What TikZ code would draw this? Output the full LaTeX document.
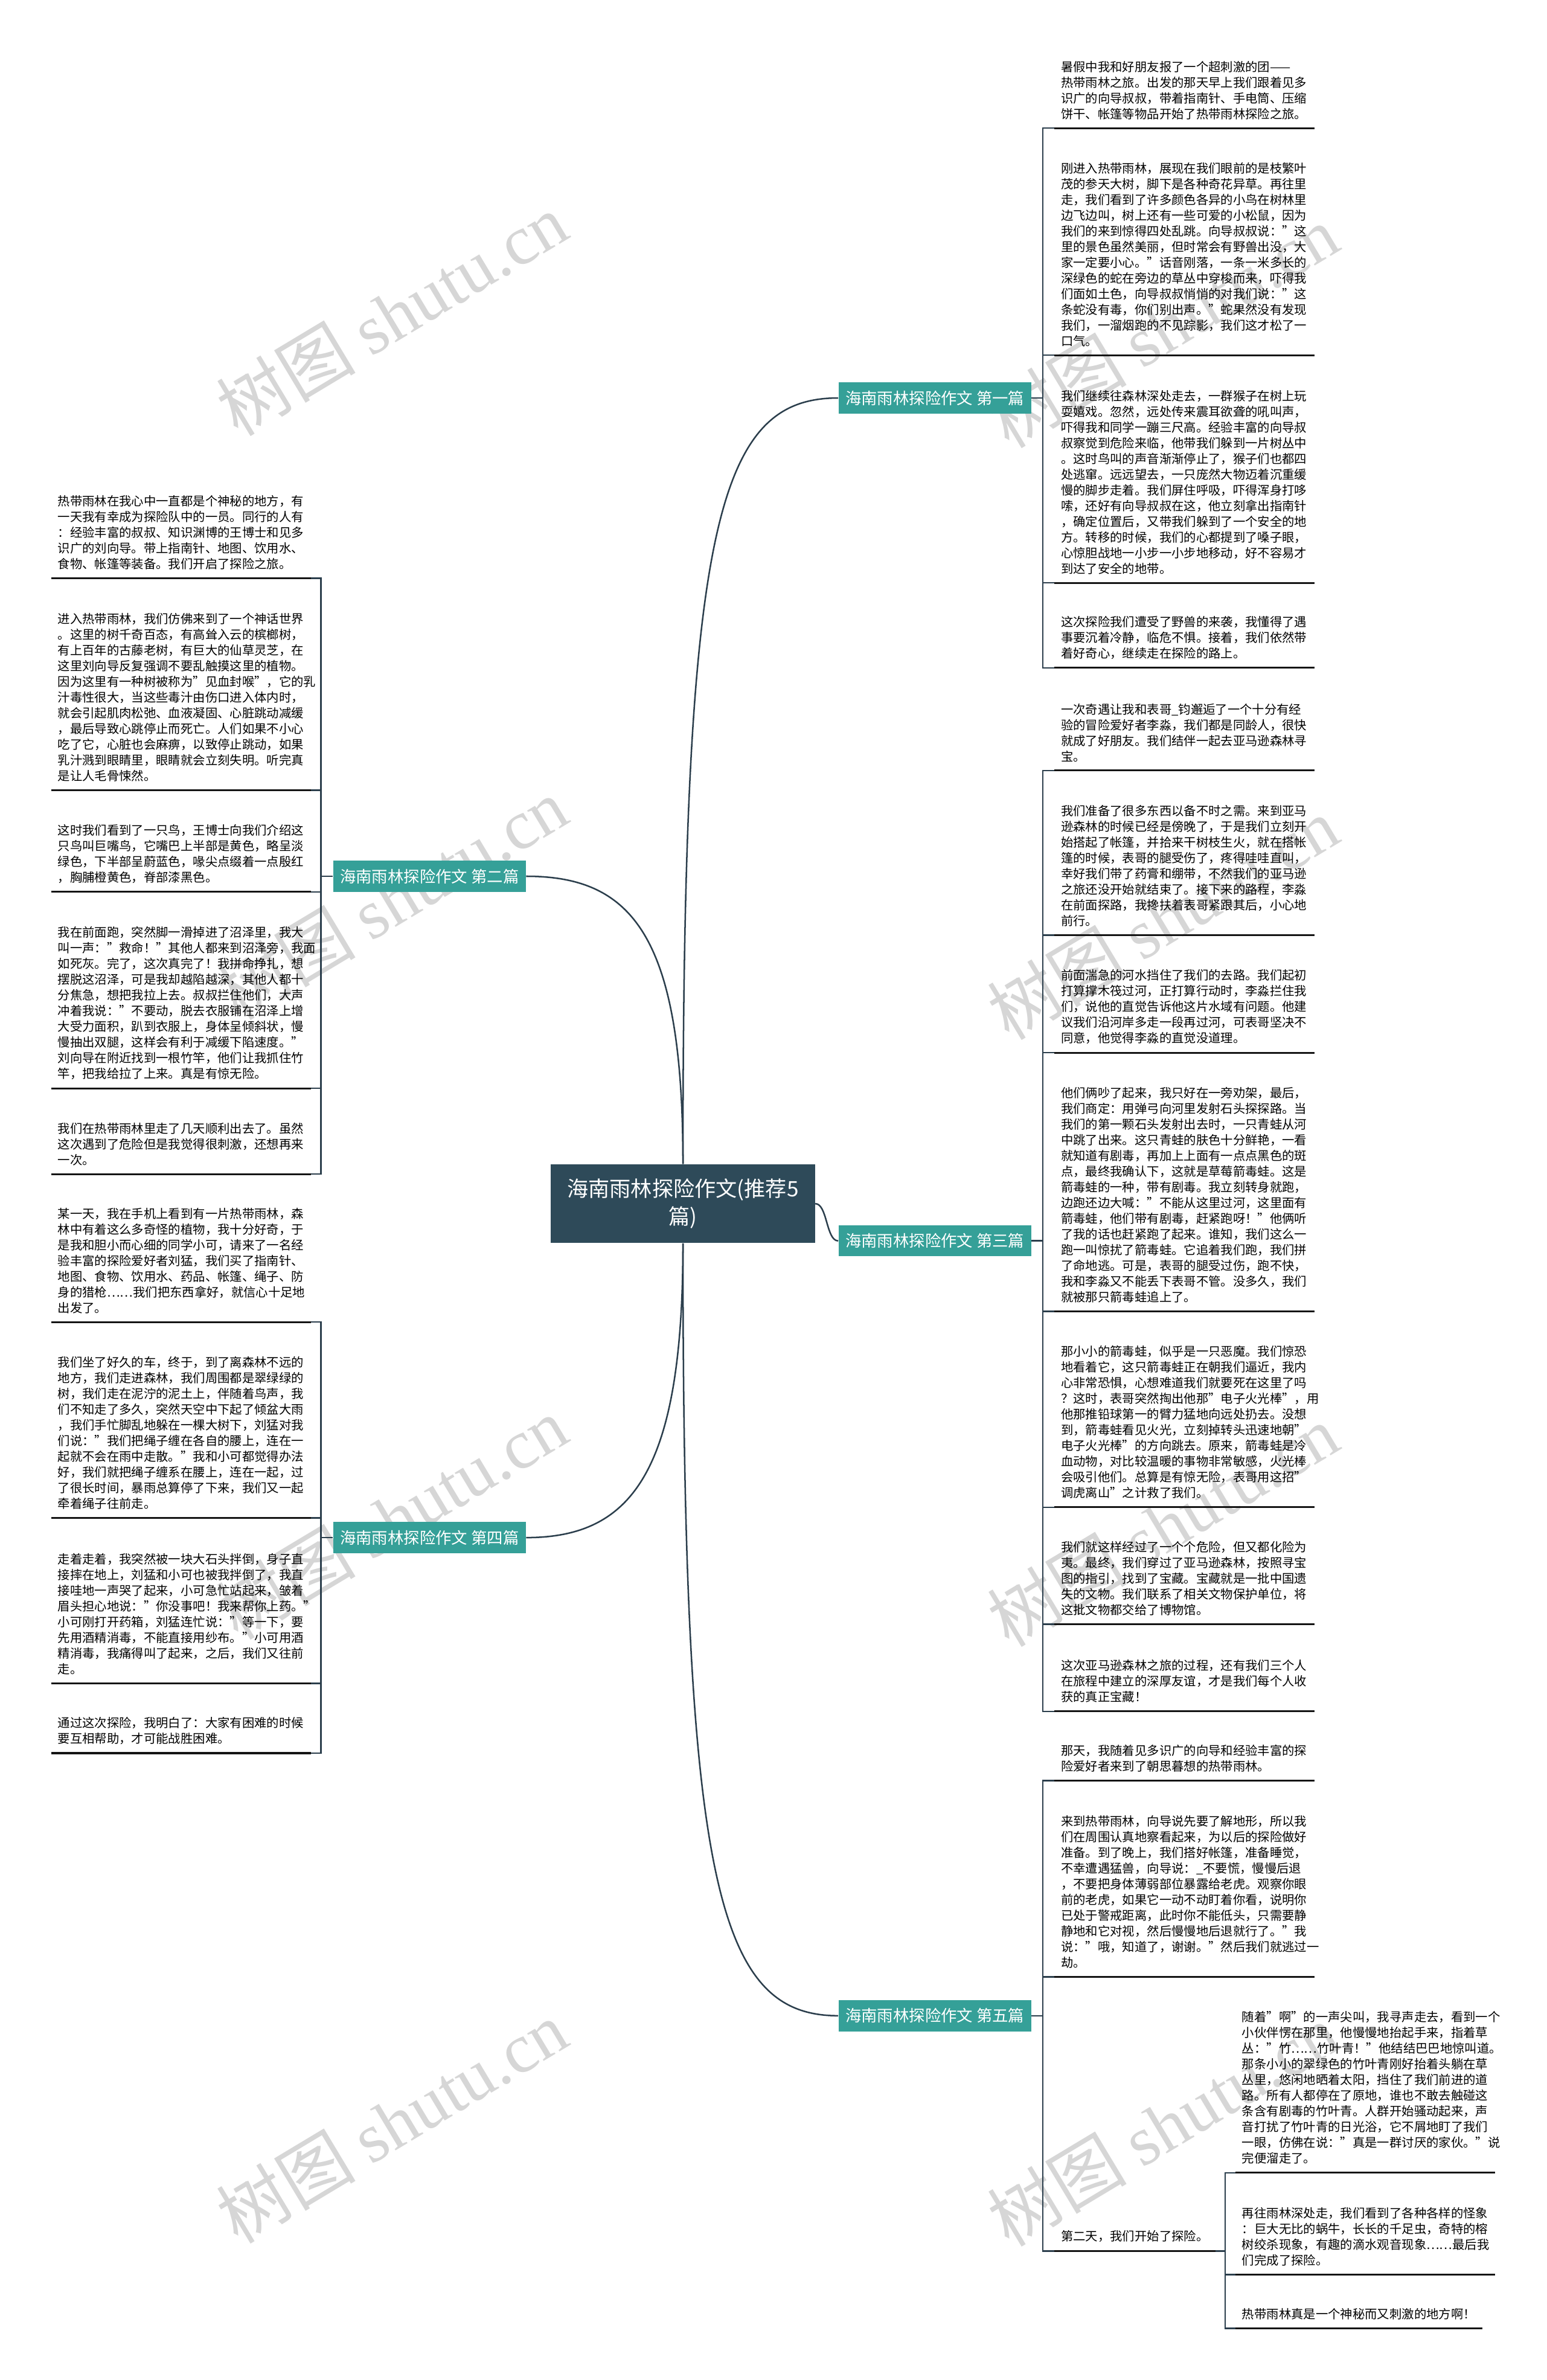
\documentclass[tikz,border=0pt]{standalone}
\usepackage{fontspec}
\setmainfont{Noto Sans CJK SC}
\newfontfamily\latinserif{Liberation Serif}
\usepackage{xcolor}
\usepackage{tikz}
\usetikzlibrary{positioning}

\definecolor{rootfill}{HTML}{2E4A59}
\definecolor{branchfill}{HTML}{35A098}
\definecolor{linkcol}{HTML}{2B3E4C}

\begin{document}
\begin{tikzpicture}[
  x=1pt, y=-1pt,
  font=\fontsize{8.1}{10.35}\selectfont,
  root/.style={
    fill=rootfill,
    text=white,
    align=center,
    minimum width=174pt,
    minimum height=52pt,
    inner sep=2pt,
    font=\fontsize{14}{18}\selectfont
  },
  branch/.style={
    fill=branchfill,
    text=white,
    minimum width=127pt,
    minimum height=20.5pt,
    inner sep=0pt,
    font=\fontsize{10.5}{12}\selectfont
  },
  leaf/.style={align=left, text width=162.5pt, inner xsep=4.2pt, inner ysep=5.5pt},
  lleaf/.style={leaf, anchor=south east},
  rleaf/.style={leaf, anchor=south west},
  note/.style={inner xsep=4.2pt, inner ysep=5.5pt, anchor=south west},
  uline/.style={draw=black!92, line width=1.2pt},
  link/.style={draw=linkcol, line width=1pt},
  wmark/.style={text=black!16, rotate=31, font=\fontsize{46}{46}\selectfont}
]
  \path[use as bounding box, fill=white] (0,0) rectangle (1019,1568);

  \node[wmark] (wm1) at (258,207) {树图 {\latinserif shutu.cn}};
  \node[wmark] (wm2) at (766,215) {树图 {\latinserif shutu.cn}};
  \node[wmark] (wm3) at (258,592) {树图 {\latinserif shutu.cn}};
  \node[wmark] (wm4) at (766,605) {树图 {\latinserif shutu.cn}};
  \node[wmark] (wm5) at (258,1000) {树图 {\latinserif shutu.cn}};
  \node[wmark] (wm6) at (766,1005) {树图 {\latinserif shutu.cn}};
  \node[wmark] (wm7) at (258,1398) {树图 {\latinserif shutu.cn}};
  \node[wmark] (wm8) at (766,1400) {树图 {\latinserif shutu.cn}};

  \node[root] (root) at (450,793) {海南雨林探险作文(推荐5\\篇)};

  \node[branch] (b1) at (616,262.2) {海南雨林探险作文 第一篇};
  \node[branch] (b2) at (283,577.3) {海南雨林探险作文 第二篇};
  \node[branch] (b3) at (616,817.5) {海南雨林探险作文 第三篇};
  \node[branch] (b4) at (283,1013) {海南雨林探险作文 第四篇};
  \node[branch] (b5) at (616,1328) {海南雨林探险作文 第五篇};

  \node[rleaf] (r1a) at (694.7,84.4) {暑假中我和好朋友报了一个超刺激的团——\\
    热带雨林之旅。出发的那天早上我们跟着见多\\
    识广的向导叔叔，带着指南针、手电筒、压缩\\
    饼干、帐篷等物品开始了热带雨林探险之旅。};
  \node[rleaf] (r1b) at (694.7,234) {刚进入热带雨林，展现在我们眼前的是枝繁叶\\
    茂的参天大树，脚下是各种奇花异草。再往里\\
    走，我们看到了许多颜色各异的小鸟在树林里\\
    边飞边叫，树上还有一些可爱的小松鼠，因为\\
    我们的来到惊得四处乱跳。向导叔叔说："这\\
    里的景色虽然美丽，但时常会有野兽出没，大\\
    家一定要小心。"话音刚落，一条一米多长的\\
    深绿色的蛇在旁边的草丛中穿梭而来，吓得我\\
    们面如土色，向导叔叔悄悄的对我们说："这\\
    条蛇没有毒，你们别出声。"蛇果然没有发现\\
    我们，一溜烟跑的不见踪影，我们这才松了一\\
    口气。};
  \node[rleaf] (r1c) at (694.7,384) {我们继续往森林深处走去，一群猴子在树上玩\\
    耍嬉戏。忽然，远处传来震耳欲聋的吼叫声，\\
    吓得我和同学一蹦三尺高。经验丰富的向导叔\\
    叔察觉到危险来临，他带我们躲到一片树丛中\\
    。这时鸟叫的声音渐渐停止了，猴子们也都四\\
    处逃窜。远远望去，一只庞然大物迈着沉重缓\\
    慢的脚步走着。我们屏住呼吸，吓得浑身打哆\\
    嗦，还好有向导叔叔在这，他立刻拿出指南针\\
    ，确定位置后，又带我们躲到了一个安全的地\\
    方。转移的时候，我们的心都提到了嗓子眼，\\
    心惊胆战地一小步一小步地移动，好不容易才\\
    到达了安全的地带。};
  \node[rleaf] (r1d) at (694.7,440) {这次探险我们遭受了野兽的来袭，我懂得了遇\\
    事要沉着冷静，临危不惧。接着，我们依然带\\
    着好奇心，继续走在探险的路上。};

  \node[lleaf] (l2a) at (205,381) {热带雨林在我心中一直都是个神秘的地方，有\\
    一天我有幸成为探险队中的一员。同行的人有\\
    ：经验丰富的叔叔、知识渊博的王博士和见多\\
    识广的刘向导。带上指南针、地图、饮用水、\\
    食物、帐篷等装备。我们开启了探险之旅。};
  \node[lleaf] (l2b) at (205,520.7) {进入热带雨林，我们仿佛来到了一个神话世界\\
    。这里的树千奇百态，有高耸入云的槟榔树，\\
    有上百年的古藤老树，有巨大的仙草灵芝，在\\
    这里刘向导反复强调不要乱触摸这里的植物。\\
    因为这里有一种树被称为"见血封喉"，它的乳\\
    汁毒性很大，当这些毒汁由伤口进入体内时，\\
    就会引起肌肉松弛、血液凝固、心脏跳动减缓\\
    ，最后导致心跳停止而死亡。人们如果不小心\\
    吃了它，心脏也会麻痹，以致停止跳动，如果\\
    乳汁溅到眼睛里，眼睛就会立刻失明。听完真\\
    是让人毛骨悚然。};
  \node[lleaf] (l2c) at (205,587.6) {这时我们看到了一只鸟，王博士向我们介绍这\\
    只鸟叫巨嘴鸟，它嘴巴上半部是黄色，略呈淡\\
    绿色，下半部呈蔚蓝色，喙尖点缀着一点殷红\\
    ，胸脯橙黄色，脊部漆黑色。};
  \node[lleaf] (l2d) at (205,717) {我在前面跑，突然脚一滑掉进了沼泽里，我大\\
    叫一声："救命！"其他人都来到沼泽旁，我面\\
    如死灰。完了，这次真完了！我拼命挣扎，想\\
    摆脱这沼泽，可是我却越陷越深，其他人都十\\
    分焦急，想把我拉上去。叔叔拦住他们，大声\\
    冲着我说："不要动，脱去衣服铺在沼泽上增\\
    大受力面积，趴到衣服上，身体呈倾斜状，慢\\
    慢抽出双腿，这样会有利于减缓下陷速度。"\\
    刘向导在附近找到一根竹竿，他们让我抓住竹\\
    竿，把我给拉了上来。真是有惊无险。};
  \node[lleaf] (l2e) at (205,773.5) {我们在热带雨林里走了几天顺利出去了。虽然\\
    这次遇到了危险但是我觉得很刺激，还想再来\\
    一次。};

  \node[rleaf] (r3a) at (694.7,507.6) {一次奇遇让我和表哥\_钧邂逅了一个十分有经\\
    验的冒险爱好者李淼，我们都是同龄人，很快\\
    就成了好朋友。我们结伴一起去亚马逊森林寻\\
    宝。};
  \node[rleaf] (r3b) at (694.7,616) {我们准备了很多东西以备不时之需。来到亚马\\
    逊森林的时候已经是傍晚了，于是我们立刻开\\
    始搭起了帐篷，并拾来干树枝生火，就在搭帐\\
    篷的时候，表哥的腿受伤了，疼得哇哇直叫，\\
    幸好我们带了药膏和绷带，不然我们的亚马逊\\
    之旅还没开始就结束了。接下来的路程，李淼\\
    在前面探路，我搀扶着表哥紧跟其后，小心地\\
    前行。};
  \node[rleaf] (r3c) at (694.7,693.5) {前面湍急的河水挡住了我们的去路。我们起初\\
    打算撑木筏过河，正打算行动时，李淼拦住我\\
    们，说他的直觉告诉他这片水域有问题。他建\\
    议我们沿河岸多走一段再过河，可表哥坚决不\\
    同意，他觉得李淼的直觉没道理。};
  \node[rleaf] (r3d) at (694.7,864) {他们俩吵了起来，我只好在一旁劝架，最后，\\
    我们商定：用弹弓向河里发射石头探探路。当\\
    我们的第一颗石头发射出去时，一只青蛙从河\\
    中跳了出来。这只青蛙的肤色十分鲜艳，一看\\
    就知道有剧毒，再加上上面有一点点黑色的斑\\
    点，最终我确认下，这就是草莓箭毒蛙。这是\\
    箭毒蛙的一种，带有剧毒。我立刻转身就跑，\\
    边跑还边大喊："不能从这里过河，这里面有\\
    箭毒蛙，他们带有剧毒，赶紧跑呀！"他俩听\\
    了我的话也赶紧跑了起来。谁知，我们这么一\\
    跑一叫惊扰了箭毒蛙。它追着我们跑，我们拼\\
    了命地逃。可是，表哥的腿受过伤，跑不快，\\
    我和李淼又不能丢下表哥不管。没多久，我们\\
    就被那只箭毒蛙追上了。};
  \node[rleaf] (r3e) at (694.7,993) {那小小的箭毒蛙，似乎是一只恶魔。我们惊恐\\
    地看着它，这只箭毒蛙正在朝我们逼近，我内\\
    心非常恐惧，心想难道我们就要死在这里了吗\\
    ？这时，表哥突然掏出他那"电子火光棒"，用\\
    他那推铅球第一的臂力猛地向远处扔去。没想\\
    到，箭毒蛙看见火光，立刻掉转头迅速地朝"\\
    电子火光棒"的方向跳去。原来，箭毒蛙是冷\\
    血动物，对比较温暖的事物非常敏感，火光棒\\
    会吸引他们。总算是有惊无险，表哥用这招"\\
    调虎离山"之计救了我们。};
  \node[rleaf] (r3f) at (694.7,1070) {我们就这样经过了一个个危险，但又都化险为\\
    夷。最终，我们穿过了亚马逊森林，按照寻宝\\
    图的指引，找到了宝藏。宝藏就是一批中国遗\\
    失的文物。我们联系了相关文物保护单位，将\\
    这批文物都交给了博物馆。};
  \node[rleaf] (r3g) at (694.7,1127.5) {这次亚马逊森林之旅的过程，还有我们三个人\\
    在旅程中建立的深厚友谊，才是我们每个人收\\
    获的真正宝藏！};

  \node[lleaf] (l4a) at (205,871) {某一天，我在手机上看到有一片热带雨林，森\\
    林中有着这么多奇怪的植物，我十分好奇，于\\
    是我和胆小而心细的同学小可，请来了一名经\\
    验丰富的探险爱好者刘猛，我们买了指南针、\\
    地图、食物、饮用水、药品、帐篷、绳子、防\\
    身的猎枪……我们把东西拿好，就信心十足地\\
    出发了。};
  \node[lleaf] (l4b) at (205,1000) {我们坐了好久的车，终于，到了离森林不远的\\
    地方，我们走进森林，我们周围都是翠绿绿的\\
    树，我们走在泥泞的泥土上，伴随着鸟声，我\\
    们不知走了多久，突然天空中下起了倾盆大雨\\
    ，我们手忙脚乱地躲在一棵大树下，刘猛对我\\
    们说："我们把绳子缠在各自的腰上，连在一\\
    起就不会在雨中走散。"我和小可都觉得办法\\
    好，我们就把绳子缠系在腰上，连在一起，过\\
    了很长时间，暴雨总算停了下来，我们又一起\\
    牵着绳子往前走。};
  \node[lleaf] (l4c) at (205,1109) {走着走着，我突然被一块大石头拌倒，身子直\\
    接摔在地上，刘猛和小可也被我拌倒了，我直\\
    接哇地一声哭了起来，小可急忙站起来，皱着\\
    眉头担心地说："你没事吧！我来帮你上药。"\\
    小可刚打开药箱，刘猛连忙说："等一下，要\\
    先用酒精消毒，不能直接用纱布。"小可用酒\\
    精消毒，我痛得叫了起来，之后，我们又往前\\
    走。};
  \node[lleaf] (l4d) at (205,1155) {通过这次探险，我明白了：大家有困难的时候\\
    要互相帮助，才可能战胜困难。};

  \node[rleaf] (r5a) at (694.7,1173) {那天，我随着见多识广的向导和经验丰富的探\\
    险爱好者来到了朝思暮想的热带雨林。};
  \node[rleaf] (r5b) at (694.7,1302.5) {来到热带雨林，向导说先要了解地形，所以我\\
    们在周围认真地察看起来，为以后的探险做好\\
    准备。到了晚上，我们搭好帐篷，准备睡觉，\\
    不幸遭遇猛兽，向导说：\_不要慌，慢慢后退\\
    ，不要把身体薄弱部位暴露给老虎。观察你眼\\
    前的老虎，如果它一动不动盯着你看，说明你\\
    已处于警戒距离，此时你不能低头，只需要静\\
    静地和它对视，然后慢慢地后退就行了。"我\\
    说："哦，知道了，谢谢。"然后我们就逃过一\\
    劫。};
  \node[note] (r5c) at (694.7,1483) {第二天，我们开始了探险。};

  \node[rleaf] (c1) at (814,1431.5) {随着"啊"的一声尖叫，我寻声走去，看到一个\\
    小伙伴愣在那里，他慢慢地抬起手来，指着草\\
    丛："竹……竹叶青！"他结结巴巴地惊叫道。\\
    那条小小的翠绿色的竹叶青刚好抬着头躺在草\\
    丛里，悠闲地晒着太阳，挡住了我们前进的道\\
    路。所有人都停在了原地，谁也不敢去触碰这\\
    条含有剧毒的竹叶青。人群开始骚动起来，声\\
    音打扰了竹叶青的日光浴，它不屑地盯了我们\\
    一眼，仿佛在说："真是一群讨厌的家伙。"说\\
    完便溜走了。};
  \node[rleaf] (c2) at (814,1498.5) {再往雨林深处走，我们看到了各种各样的怪象\\
    ：巨大无比的蜗牛，长长的千足虫，奇特的榕\\
    树绞杀现象，有趣的滴水观音现象……最后我\\
    们完成了探险。};
  \node[note] (c3) at (814,1534) {热带雨林真是一个神秘而又刺激的地方啊！};

  \draw[link] (root.north) .. controls +(0,-420) and +(-80,0) .. (b1.west);
  \draw[link] (root.north) .. controls +(0,-150) and +(70,0) .. (b2.east);
  \draw[link] (root.east) .. controls +(8,0) and +(-8,0) .. (b3.west);
  \draw[link] (root.south) .. controls +(0,150) and +(70,0) .. (b4.east);
  \draw[link] (root.south) .. controls +(0,420) and +(-80,0) .. (b5.west);

  \draw[uline] (r1a.south west) -- (r1a.south east) (r1b.south west) -- (r1b.south east)
    (r1c.south west) -- (r1c.south east) (r1d.south west) -- (r1d.south east);
  \draw[uline] (l2a.south west) -- (l2a.south east) (l2b.south west) -- (l2b.south east)
    (l2c.south west) -- (l2c.south east) (l2d.south west) -- (l2d.south east)
    (l2e.south west) -- (l2e.south east);
  \draw[uline] (r3a.south west) -- (r3a.south east) (r3b.south west) -- (r3b.south east)
    (r3c.south west) -- (r3c.south east) (r3d.south west) -- (r3d.south east)
    (r3e.south west) -- (r3e.south east) (r3f.south west) -- (r3f.south east)
    (r3g.south west) -- (r3g.south east);
  \draw[uline] (l4a.south west) -- (l4a.south east) (l4b.south west) -- (l4b.south east)
    (l4c.south west) -- (l4c.south east) (l4d.south west) -- (l4d.south east);
  \draw[uline] (r5a.south west) -- (r5a.south east) (r5b.south west) -- (r5b.south east)
    (r5c.south west) -- (r5c.south east);
  \draw[uline] (c1.south west) -- (c1.south east) (c2.south west) -- (c2.south east)
    (c3.south west) -- (c3.south east);

  \draw[link] (b1.east) -- ++(7.5,0) |- (r1a.south west)
    (b1.east) -- ++(7.5,0) |- (r1b.south west)
    (b1.east) -- ++(7.5,0) |- (r1c.south west)
    (b1.east) -- ++(7.5,0) |- (r1d.south west);
  \draw[link] (b2.west) -- ++(-7.9,0) |- (l2a.south east)
    (b2.west) -- ++(-7.9,0) |- (l2b.south east)
    (b2.west) -- ++(-7.9,0) |- (l2c.south east)
    (b2.west) -- ++(-7.9,0) |- (l2d.south east)
    (b2.west) -- ++(-7.9,0) |- (l2e.south east);
  \draw[link] (b3.east) -- ++(7.5,0) |- (r3a.south west)
    (b3.east) -- ++(7.5,0) |- (r3b.south west)
    (b3.east) -- ++(7.5,0) |- (r3c.south west)
    (b3.east) -- ++(7.5,0) |- (r3d.south west)
    (b3.east) -- ++(7.5,0) |- (r3e.south west)
    (b3.east) -- ++(7.5,0) |- (r3f.south west)
    (b3.east) -- ++(7.5,0) |- (r3g.south west);
  \draw[link] (b4.west) -- ++(-7.9,0) |- (l4a.south east)
    (b4.west) -- ++(-7.9,0) |- (l4b.south east)
    (b4.west) -- ++(-7.9,0) |- (l4c.south east)
    (b4.west) -- ++(-7.9,0) |- (l4d.south east);
  \draw[link] (b5.east) -- ++(7.5,0) |- (r5a.south west)
    (b5.east) -- ++(7.5,0) |- (r5b.south west)
    (b5.east) -- ++(7.5,0) |- (r5c.south west);
  \draw[link] (r5c.south east) -- ++(6.5,0) |- (c1.south west)
    (r5c.south east) -- ++(6.5,0) |- (c2.south west)
    (r5c.south east) -- ++(6.5,0) |- (c3.south west);
\end{tikzpicture}
\end{document}
